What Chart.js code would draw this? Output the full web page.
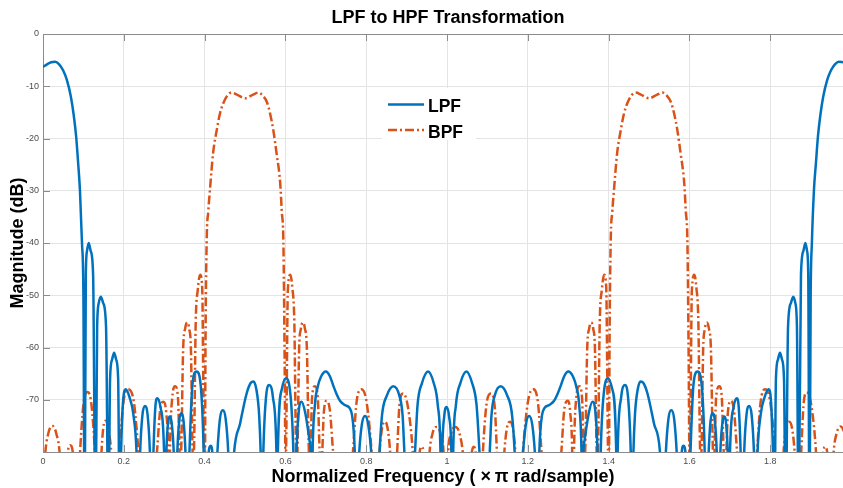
<!DOCTYPE html>
<html>
<head>
<meta charset="utf-8">
<script src="https://cdn.jsdelivr.net/npm/chart.js@4.4.1/dist/chart.umd.min.js"></script>
<style>
  html, body { margin: 0; padding: 0; background: #fff; }
  canvas { display: block; }
</style>
</head>
<body>
<canvas id="chart" width="843" height="488"></canvas>
<script>
// [normalized frequency, magnitude dB]
const lpf = [
  [0.000,-6.3],[0.010,-5.8],[0.020,-5.4],[0.030,-5.3],[0.040,-5.8],[0.050,-7.0],[0.059,-8.8],[0.069,-12.0],
  [0.076,-15.5],[0.082,-19.6],[0.087,-24.7],[0.0915,-30.0],[0.0965,-40.0],[0.100,-50.0],[0.103,-95],
  [0.106,-46],[0.109,-41.5],[0.113,-40],[0.118,-41.5],[0.124,-46],[0.130,-95],
  [0.134,-56],[0.138,-51.5],[0.143,-50.3],[0.149,-51.5],[0.156,-56],[0.162,-95],
  [0.166,-66],[0.171,-62.3],[0.176,-61],[0.181,-62.3],[0.186,-66],[0.190,-95],
  [0.193,-81],[0.198,-70.5],[0.205,-68],[0.214,-69.5],[0.224,-73],[0.232,-81],[0.236,-95],
  [0.240,-81],[0.246,-73],[0.252,-71.2],[0.259,-73],[0.265,-81],[0.269,-95],
  [0.273,-81],[0.278,-71.5],[0.283,-69.7],[0.291,-71.5],[0.300,-81],[0.302,-95],
  [0.305,-81],[0.309,-74.8],[0.314,-73.2],[0.319,-74.8],[0.324,-81],[0.328,-95],
  [0.332,-81],[0.337,-74.2],[0.343,-72.6],[0.348,-74.2],[0.353,-81],[0.357,-95],
  [0.362,-81],[0.370,-67],[0.380,-64.6],[0.390,-67],[0.398,-81],[0.401,-95],
  [0.409,-81],[0.415,-78.8],[0.420,-81],[0.424,-95],
  [0.431,-81],[0.438,-73.6],[0.445,-72],[0.452,-73.6],[0.459,-81],[0.464,-95],
  [0.472,-81],[0.488,-74.5],[0.504,-68.8],[0.514,-66.8],[0.521,-66.5],[0.528,-68],[0.535,-73],[0.539,-81],[0.542,-95],
  [0.545,-81],[0.552,-69.5],[0.560,-67.2],[0.569,-69.5],[0.578,-81],[0.580,-95],
  [0.581,-81],[0.591,-68],[0.601,-65.9],[0.611,-68],[0.620,-81],[0.623,-95],
  [0.627,-81],[0.633,-72.2],[0.640,-70.4],[0.649,-72.5],[0.660,-78],[0.663,-81],[0.665,-95],
  [0.667,-81],[0.673,-71],[0.680,-67.5],[0.688,-65.6],[0.700,-64.6],[0.710,-65.5],[0.718,-67.2],[0.726,-68.8],
  [0.735,-70.2],[0.747,-71],[0.759,-71.6],[0.765,-73],[0.769,-76],[0.772,-81],[0.775,-95],
  [0.782,-81],[0.789,-74.8],[0.797,-73.1],[0.805,-74.8],[0.813,-81],[0.820,-95],
  [0.832,-81],[0.839,-73],[0.851,-69.2],[0.867,-67.4],[0.882,-69.2],[0.890,-73],[0.895,-81],[0.905,-95],
  [0.920,-81],[0.927,-71],[0.938,-66.8],[0.953,-64.6],[0.967,-66.8],[0.977,-71],[0.984,-81],[0.986,-95],
  [0.988,-81],[0.993,-73.2],[0.999,-71.4],[1.005,-73.2],[1.011,-81],[1.013,-95],
  [1.015,-81],[1.022,-71],[1.033,-66.8],[1.048,-64.6],[1.062,-66.8],[1.073,-71],[1.081,-81],[1.090,-95],
  [1.105,-81],[1.110,-73],[1.118,-69.2],[1.133,-67.4],[1.149,-69.2],[1.161,-73],[1.168,-81],[1.175,-95],
  [1.187,-81],[1.195,-74.8],[1.203,-73.1],[1.211,-74.8],[1.218,-81],[1.225,-95],
  [1.228,-81],[1.231,-76],[1.235,-73],[1.241,-71.6],[1.253,-71],[1.265,-70.2],[1.274,-68.8],[1.282,-67.2],
  [1.290,-65.5],[1.300,-64.6],[1.312,-65.6],[1.320,-67.5],[1.327,-71],[1.333,-81],[1.335,-95],
  [1.337,-81],[1.340,-78],[1.351,-72.5],[1.360,-70.4],[1.367,-72.2],[1.373,-81],[1.377,-95],
  [1.380,-81],[1.389,-68],[1.399,-65.9],[1.409,-68],[1.419,-81],[1.420,-95],
  [1.422,-81],[1.431,-69.5],[1.440,-67.2],[1.448,-69.5],[1.455,-81],[1.458,-95],
  [1.461,-81],[1.465,-73],[1.472,-68],[1.479,-66.5],[1.486,-66.8],[1.496,-68.8],[1.512,-74.5],[1.528,-81],[1.535,-95],
  [1.541,-81],[1.548,-73.6],[1.555,-72],[1.562,-73.6],[1.569,-81],[1.575,-95],
  [1.580,-81],[1.585,-78.8],[1.591,-81],[1.596,-95],
  [1.602,-81],[1.610,-67],[1.620,-64.6],[1.630,-67],[1.638,-81],[1.641,-95],
  [1.647,-81],[1.652,-74.2],[1.657,-72.6],[1.663,-74.2],[1.668,-81],[1.672,-95],
  [1.676,-81],[1.681,-74.8],[1.686,-73.2],[1.691,-74.8],[1.695,-81],[1.698,-95],
  [1.700,-81],[1.709,-71.5],[1.717,-69.7],[1.722,-71.5],[1.727,-81],[1.731,-95],
  [1.735,-81],[1.741,-73],[1.748,-71.2],[1.754,-73],[1.760,-81],[1.764,-95],
  [1.768,-81],[1.776,-73],[1.786,-69.5],[1.796,-68],[1.802,-70.5],[1.807,-81],[1.810,-95],
  [1.814,-66],[1.819,-62.3],[1.824,-61],[1.829,-62.3],[1.834,-66],[1.838,-95],
  [1.844,-56],[1.851,-51.5],[1.857,-50.3],[1.862,-51.5],[1.866,-56],[1.870,-95],
  [1.876,-46],[1.882,-41.5],[1.887,-40],[1.891,-41.5],[1.894,-46],[1.897,-95],
  [1.900,-50],[1.903,-40],[1.908,-30],[1.913,-24.7],[1.918,-19.6],[1.924,-15.5],[1.931,-12],[1.941,-8.8],
  [1.950,-7],[1.960,-5.8],[1.970,-5.3],[1.980,-5.4]
];

const bpf = [
  [0.000,-90],[0.005,-81],[0.013,-76.5],[0.023,-75],[0.033,-76.5],[0.042,-81],[0.050,-95],
  [0.060,-81],[0.067,-78.7],[0.075,-81],[0.083,-95],
  [0.091,-81],[0.100,-71],[0.110,-68.5],[0.120,-71],[0.129,-81],[0.136,-95],
  [0.144,-81],[0.149,-75.5],[0.155,-74],[0.162,-75.5],[0.170,-81],[0.180,-95],
  [0.189,-81],[0.199,-70.5],[0.211,-68],[0.225,-70.5],[0.238,-81],[0.260,-95],
  [0.281,-81],[0.290,-72],[0.298,-70.4],[0.305,-72.5],[0.310,-81],[0.312,-95],
  [0.314,-81],[0.320,-69.5],[0.327,-67.4],[0.334,-69.5],[0.339,-81],
  [0.341,-81],[0.347,-60],[0.352,-56.3],[0.357,-55.2],[0.362,-56.5],[0.366,-60],[0.371,-81],
  [0.373,-81],[0.378,-55],[0.383,-49],[0.389,-46.1],[0.394,-48.5],[0.399,-81],
  [0.401,-81],[0.402,-62],[0.405,-40],[0.409,-34],[0.413,-30],[0.421,-22.8],[0.430,-18.4],[0.438,-15.2],
  [0.446,-13.3],[0.456,-11.8],[0.467,-11.2],[0.480,-11.6],[0.500,-12.3],[0.520,-11.6],[0.533,-11.2],[0.544,-11.8],
  [0.554,-13.0],[0.562,-15.2],[0.570,-18.4],[0.578,-22.8],[0.587,-28.5],[0.591,-34],[0.595,-40],[0.598,-62],[0.600,-81],
  [0.601,-81],[0.606,-49],[0.612,-46.1],[0.617,-48.5],[0.622,-55],[0.627,-81],
  [0.629,-81],[0.634,-60],[0.638,-56.5],[0.643,-55.2],[0.648,-56.3],[0.653,-60],[0.659,-81],
  [0.661,-81],[0.666,-69.5],[0.673,-67.4],[0.680,-69.5],[0.686,-81],
  [0.690,-81],[0.695,-72.5],[0.702,-70.2],[0.710,-72],[0.719,-81],[0.740,-95],
  [0.766,-81],[0.776,-70.5],[0.788,-68],[0.801,-70.5],[0.814,-81],[0.823,-95],
  [0.832,-81],[0.839,-75.5],[0.846,-74.2],[0.853,-75.5],[0.860,-81],[0.868,-95],
  [0.876,-81],[0.882,-71.3],[0.891,-68.8],[0.903,-71.3],[0.916,-81],[0.924,-95],
  [0.931,-81],[0.937,-79],[0.943,-81],[0.949,-95],
  [0.956,-81],[0.964,-76.5],[0.974,-75.2],[0.984,-76.5],[0.992,-81],[0.997,-95],
  [1.002,-81],[1.010,-76.5],[1.021,-75.2],[1.031,-76.5],[1.040,-81],[1.050,-95],
  [1.060,-81],[1.066,-79],[1.072,-81],[1.080,-95],
  [1.088,-81],[1.097,-71.3],[1.108,-68.8],[1.118,-71.3],[1.124,-81],[1.133,-95],
  [1.141,-81],[1.148,-75.5],[1.156,-74.2],[1.163,-75.5],[1.170,-81],[1.178,-95],
  [1.187,-81],[1.200,-70.5],[1.213,-68],[1.225,-70.5],[1.235,-81],[1.260,-95],
  [1.282,-81],[1.290,-72],[1.299,-70.2],[1.305,-72.5],[1.310,-81],[1.312,-95],
  [1.314,-81],[1.320,-69.5],[1.327,-67.4],[1.334,-69.5],[1.339,-81],
  [1.341,-81],[1.347,-60],[1.352,-56.3],[1.357,-55.2],[1.362,-56.5],[1.366,-60],[1.371,-81],
  [1.373,-81],[1.378,-55],[1.383,-49],[1.389,-46.1],[1.394,-48.5],[1.399,-81],
  [1.401,-81],[1.402,-62],[1.405,-40],[1.409,-34],[1.413,-30],[1.421,-22.8],[1.430,-18.4],[1.438,-15.2],
  [1.446,-13.3],[1.456,-11.8],[1.467,-11.2],[1.480,-11.6],[1.500,-12.3],[1.520,-11.6],[1.533,-11.2],[1.544,-11.8],
  [1.554,-13.0],[1.562,-15.2],[1.570,-18.4],[1.578,-22.8],[1.587,-28.5],[1.591,-34],[1.595,-40],[1.598,-62],[1.600,-81],
  [1.601,-81],[1.606,-49],[1.612,-46.1],[1.617,-48.5],[1.622,-55],[1.627,-81],
  [1.629,-81],[1.634,-60],[1.638,-56.5],[1.643,-55.2],[1.648,-56.3],[1.653,-60],[1.659,-81],
  [1.661,-81],[1.666,-69.5],[1.674,-67.4],[1.680,-69.5],[1.686,-81],
  [1.690,-81],[1.695,-72.5],[1.703,-70.2],[1.710,-72],[1.719,-81],[1.740,-95],
  [1.766,-81],[1.776,-70.5],[1.787,-68],[1.800,-70.5],[1.813,-81],[1.823,-95],
  [1.832,-81],[1.839,-75.5],[1.847,-74.2],[1.854,-75.5],[1.861,-81],[1.868,-95],
  [1.876,-81],[1.882,-71.3],[1.890,-68.6],[1.902,-71.3],[1.914,-81],[1.922,-95],
  [1.930,-81],[1.936,-79],[1.942,-81],[1.949,-95],
  [1.956,-81],[1.964,-76.5],[1.975,-75.1],[1.985,-76.5]
];

const seriesNames = ['LPF', 'BPF'];
const xTicks = [0, 0.2, 0.4, 0.6, 0.8, 1, 1.2, 1.4, 1.6, 1.8];
const yTicks = [-70, -60, -50, -40, -30, -20, -10, 0];

const BLUE = '#0072BD';
const ORANGE = '#D95319';
const DASHDOT = [9, 3, 2, 3];
const FONT = '"Liberation Sans", Arial, Helvetica, sans-serif';

const toPts = (arr) => arr.map(([x, y]) => ({ x, y }));

// box, inward ticks, title and in-plot legend
const decorations = {
    id: 'decorations',
    beforeDatasetsDraw(chart) {
        const { ctx, chartArea: a, scales } = chart;
        ctx.save();
        ctx.strokeStyle = '#8c8c8c';
        ctx.lineWidth = 1;
        ctx.beginPath();
        ctx.moveTo(a.left + 0.5, a.bottom + 0.5);
        ctx.lineTo(a.left + 0.5, a.top + 0.5);
        ctx.lineTo(a.right, a.top + 0.5);
        ctx.moveTo(a.left, a.bottom + 0.5);
        ctx.lineTo(a.right, a.bottom + 0.5);
        xTicks.forEach(v => {
            const px = Math.round(scales.x.getPixelForValue(v)) + 0.5;
            ctx.moveTo(px, a.bottom);
            ctx.lineTo(px, a.bottom - 7);
            ctx.moveTo(px, a.top);
            ctx.lineTo(px, a.top + 7);
        });
        yTicks.forEach(v => {
            const py = Math.round(scales.y.getPixelForValue(v)) + 0.5;
            ctx.moveTo(a.left, py);
            ctx.lineTo(a.left + 7, py);
        });
        ctx.stroke();
        ctx.restore();
    },
    afterDraw(chart) {
        const { ctx } = chart;
        ctx.save();
        ctx.fillStyle = '#000';
        ctx.textAlign = 'center';
        ctx.textBaseline = 'middle';
        ctx.font = 'bold 18px ' + FONT;
        ctx.fillText('LPF to HPF Transformation', 448, 18);

        // legend
        ctx.fillStyle = '#fff';
        ctx.fillRect(382, 88, 94, 52);
        const rows = [
            { name: seriesNames[0], color: BLUE, dash: [], y: 104.5 },
            { name: seriesNames[1], color: ORANGE, dash: DASHDOT, y: 130 }
        ];
        rows.forEach(r => {
            ctx.beginPath();
            ctx.setLineDash(r.dash);
            ctx.strokeStyle = r.color;
            ctx.lineWidth = 2.5;
            ctx.moveTo(388, r.y);
            ctx.lineTo(424, r.y);
            ctx.stroke();
            ctx.setLineDash([]);
            ctx.fillStyle = '#000';
            ctx.textAlign = 'left';
            ctx.textBaseline = 'alphabetic';
            ctx.font = 'bold 17.5px ' + FONT;
            ctx.fillText(r.name, 428, r.y + 7.5);
        });
        ctx.restore();
    }
};

new Chart(document.getElementById('chart'), {
    type: 'line',
    data: {
        datasets: [
            {
                label: seriesNames[0],
                data: toPts(lpf),
                borderColor: BLUE,
                borderWidth: 2.5,
                pointRadius: 0,
                cubicInterpolationMode: 'monotone',
                clip: 0,
                fill: false,
            },
            {
                label: seriesNames[1],
                data: toPts(bpf),
                borderColor: ORANGE,
                borderWidth: 2.5,
                borderDash: DASHDOT,
                pointRadius: 0,
                cubicInterpolationMode: 'monotone',
                clip: 0,
                fill: false,
            },
        ],
    },
    options: {
        responsive: false,
        animation: false,
        layout: { padding: { top: 34, right: 0, bottom: 0, left: 0 } },
        plugins: {
            legend: { display: false },
            tooltip: { enabled: false },
        },
        scales: {
            x: {
                type: 'linear',
                min: 0,
                max: 1.98,
                afterBuildTicks: (s) => { s.ticks = xTicks.map(v => ({ value: v })); },
                afterFit: (s) => { s.height = 36; },
                grid: { color: '#e4e4e4', drawTicks: false },
                border: { display: false },
                ticks: {
                    padding: 4,
                    maxRotation: 0,
                    color: '#4d4d4d',
                    font: { family: FONT, size: 9 },
                    callback: (v) => String(+Number(v).toFixed(1)),
                },
                title: {
                    display: true,
                    text: 'Normalized Frequency ( ×\u2009π rad/sample)',
                    color: '#000',
                    font: { family: FONT, size: 18, weight: 'bold' },
                    padding: { top: 0, bottom: 0 },
                },
            },
            y: {
                type: 'linear',
                min: -80,
                max: 0,
                afterBuildTicks: (s) => { s.ticks = yTicks.map(v => ({ value: v })); },
                afterFit: (s) => { s.width = 43; },
                grid: { color: '#e4e4e4', drawTicks: false },
                border: { display: false },
                ticks: {
                    padding: 4,
                    color: '#4d4d4d',
                    font: { family: FONT, size: 9 },
                    callback: (v) => String(v),
                },
                title: {
                    display: true,
                    text: 'Magnitude (dB)',
                    color: '#000',
                    font: { family: FONT, size: 18, weight: 'bold' },
                    padding: { top: 7, bottom: 0 },
                },
            },
        },
    },
    plugins: [decorations],
});
</script>
</body>
</html>
